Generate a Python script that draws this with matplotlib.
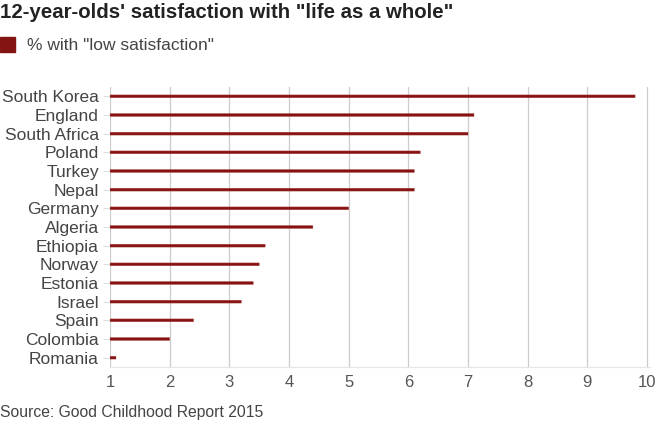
import matplotlib
matplotlib.use("Agg")
import matplotlib.pyplot as plt

countries = ["South Korea", "England", "South Africa", "Poland", "Turkey",
             "Nepal", "Germany", "Algeria", "Ethiopia", "Norway", "Estonia",
             "Israel", "Spain", "Colombia", "Romania"]
low_satisfaction = [9.8, 7.1, 7.0, 6.2, 6.1, 6.1, 5.0, 4.4, 3.6, 3.5, 3.4,
                    3.2, 2.4, 2.0, 1.1]
x_ticks = [1, 2, 3, 4, 5, 6, 7, 8, 9, 10]

BAR = "#841414"
TXT = "#444444"

plt.rcParams["font.family"] = ["Liberation Sans", "DejaVu Sans"]

fig = plt.figure(figsize=(6.6, 4.24), dpi=100)
ax = fig.add_axes([110 / 660, 1 - 367 / 424, 540 / 660, (367 - 87) / 424])

ypos = list(range(len(countries)))
ax.barh(ypos, [v - 1 for v in low_satisfaction], left=1, height=0.15,
        color=BAR, edgecolor="#b03a3a", linewidth=0.3, zorder=3, snap=False)

ax.set_xlim(1, 10.05)
ax.set_ylim(len(countries) - 0.5, -0.5)
ax.set_xticks(x_ticks)
ax.set_xticklabels([str(t) for t in x_ticks], fontsize=12, color="#555555")
ax.set_yticks(ypos)
ax.set_yticklabels(countries, fontsize=12.5, color=TXT)
ax.tick_params(axis="x", length=0, pad=6)
ax.tick_params(axis="y", length=5, color="#e0e0e0", pad=3)
ax.grid(axis="x", color="#cccccc", linewidth=0.9, zorder=0)
for s in ["top", "right", "left"]:
    ax.spines[s].set_visible(False)
ax.spines["bottom"].set_color("#e6e6e6")

fig.text(0.0, 1 - 12 / 424, "12-year-olds' satisfaction with \"life as a whole\"",
         fontsize=14.7, fontweight="bold", color="#222222", va="center")
fig.patches.append(plt.Rectangle((0, 1 - 52 / 424), 15 / 660, 15 / 424,
                                 transform=fig.transFigure, color=BAR))
fig.text(27 / 660, 1 - 45 / 424, "% with \"low satisfaction\"",
         fontsize=12.5, color=TXT, va="center")
fig.text(0.0, 1 - 412 / 424, "Source: Good Childhood Report 2015",
         fontsize=11.3, color=TXT, va="center")

fig.savefig("out.png", dpi=100)
